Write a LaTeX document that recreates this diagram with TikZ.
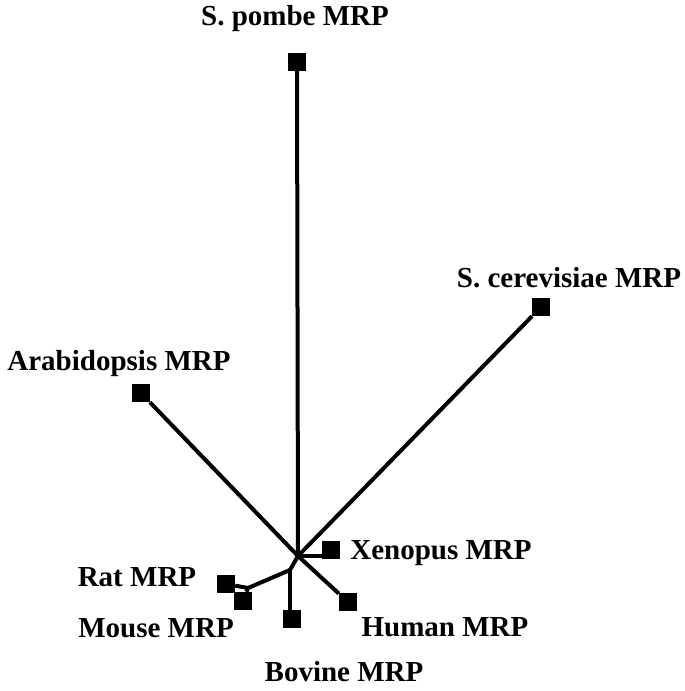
\documentclass[tikz,border=0pt]{standalone}
\usepackage{fontspec}
\setmainfont{Liberation Serif}
\tikzset{
	leaf/.style={fill=black, inner sep=0pt, minimum size=18pt},
	lbl/.style={font=\fontsize{29}{31}\selectfont\bfseries, inner sep=0pt},
	branch/.style={line width=4pt}
}
\begin{document}
\begin{tikzpicture}[x=1pt, y=-1pt]
	\useasboundingbox (0,0) rectangle (685,691);
	% internal points of the tree
	\coordinate (root) at (298,556);
	\coordinate (inner) at (290,570);
	\coordinate (rodent) at (248,588);
	% leaves
	\node[leaf] (pombe) at (297,62) {};
	\node[leaf] (arab) at (141,393) {};
	\node[leaf] (cere) at (541,307) {};
	\node[leaf] (xeno) at (331,550) {};
	\node[leaf] (human) at (348,602) {};
	\node[leaf] (bovine) at (292,619) {};
	\node[leaf] (rat) at (226,584) {};
	\node[leaf] (mouse) at (243,601) {};
	% branches
	\draw[branch] (root) -- (pombe);
	\draw[branch] (root) -- (arab);
	\draw[branch] (root) -- (cere);
	\draw[branch] (root) -- (xeno.west |- root);
	\draw[branch] (root) -- (human);
	\draw[branch] (root) -- (inner);
	\draw[branch] (inner) -- (inner |- bovine.north);
	\draw[branch] (inner) -- (rodent);
	\draw[branch] (rodent) -- (rat);
	\draw[branch] (rodent) -- (mouse);
	% labels
	\node[lbl] (pombeL) at (295,19) {S. pombe MRP};
	\node[lbl] (arabL) at (119,364) {Arabidopsis MRP};
	\node[lbl] (cereL) at (569,278) {S. cerevisiae MRP};
	\node[lbl] (xenoL) at (441,553) {Xenopus MRP};
	\node[lbl] (ratL) at (137,577) {Rat MRP};
	\node[lbl] (mouseL) at (156,628) {Mouse MRP};
	\node[lbl] (humanL) at (445,627) {Human MRP};
	\node[lbl] (bovineL) at (344,672) {Bovine MRP};
\end{tikzpicture}
\end{document}
